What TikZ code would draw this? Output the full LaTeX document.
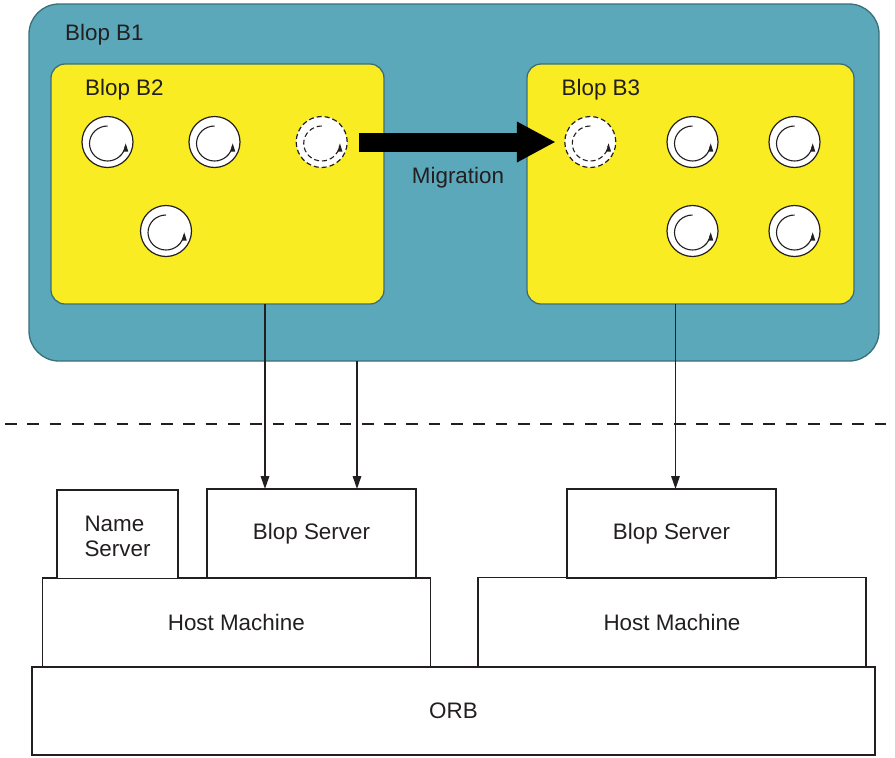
\documentclass[tikz,border=0pt]{standalone}
\usepackage{fontspec}
\setmainfont{Liberation Sans}
\usetikzlibrary{arrows.meta,calc}
\definecolor{tealfill}{HTML}{5BA8BA}
\definecolor{tealline}{HTML}{3A6F7A}
\definecolor{yel}{HTML}{F9EC23}
\definecolor{ink}{HTML}{231F20}
\tikzset{
  every node/.style={text=ink,font=\fontsize{22.4}{27}\selectfont},
  boxshape/.style={draw=ink,line width=1.5pt,fill=white,inner sep=0pt,outer sep=0pt,align=center},
  blopbox/.style={draw=tealline,line width=1.3pt,fill=yel,rounded corners=14pt},
  lbl/.style={inner sep=0pt,anchor=west},
  procdisc/.style={circle,fill=white,draw=ink,line width=1.2pt,minimum size=51pt,inner sep=0pt,outer sep=0pt},
  flow/.style={draw=ink,line width=1.5pt,-{Triangle[length=13pt,width=8.5pt]}},
  dashproc/.style={dash pattern=on 5pt off 3pt},
}
\newcommand{\procnode}[4]{%
  \node[procdisc,#4] (#1) at (#2,#3) {};
  \begin{scope}[shift={(#1.center)},x=1pt,y=1pt]
    \draw[ink,line width=1.1pt,#4] (0,16) arc[start angle=90,end angle=352,x radius=18,y radius=17.5];
    \fill[ink] (18.2,-1.3) -- (20.8,-9.7) -- (15.8,-9.7) -- cycle;
  \end{scope}}
\begin{document}
\begin{tikzpicture}[x=1pt,y=-1pt]
\useasboundingbox (0,0) rectangle (895,758);
% containers
\path[draw=tealline,line width=1.3pt,fill=tealfill,rounded corners=30pt] (29,4) rectangle (879,361);
\coordinate (b1bottom) at (357,361);
\path[blopbox] (51,64) rectangle (384,304);
\coordinate (b2bottom) at (265,304);
\path[blopbox] (527,64) rectangle (854,304);
\coordinate (b3bottom) at (675.5,304);
\node[lbl] (lb1) at (65,35) {Blop B1};
\node[lbl] (lb2) at (85,89.5) {Blop B2};
\node[lbl] (lb3) at (561.5,89.5) {Blop B3};
% processes
\procnode{p1}{107.5}{142}{}
\procnode{p2}{214.5}{142}{}
\procnode{p3}{321.7}{142}{dashproc}
\procnode{p4}{166}{231}{}
\procnode{q1}{590.3}{142}{dashproc}
\procnode{q2}{692.5}{142}{}
\procnode{q3}{794.5}{142}{}
\procnode{q4}{692.5}{231}{}
\procnode{q5}{794.5}{231}{}
% migration
\draw[black,line width=19pt,shorten <=12pt,shorten >=9pt,-{Triangle[length=39pt,width=38pt]}] (p3.east) -- (q1.west);
\node[anchor=center,inner sep=0pt] (mig) at (458,177.5) {Migration};
% separator
\coordinate (sepl) at (5,424);
\coordinate (sepr) at (900,424);
\draw[ink,line width=1.4pt,dash pattern=on 11.7pt off 10.6pt] (sepl) -- (sepr);
% lower boxes
\node[boxshape,minimum width=843pt,minimum height=88pt] (orb) at (453.5,711) {ORB};
\node[boxshape,minimum width=388pt,minimum height=89pt] (h1) at (236.3,622.5) {Host Machine};
\node[boxshape,minimum width=388pt,minimum height=89pt] (h2) at (672,622) {Host Machine};
\node[boxshape,minimum width=121pt,minimum height=88.5pt,align=left] (ns) at (117.5,534) {\rule{0pt}{20pt}Name\\[-1.5pt]Server};
\node[boxshape,minimum width=209pt,minimum height=89pt] (s1) at (311.5,533.5) {Blop Server};
\node[boxshape,minimum width=209pt,minimum height=89pt] (s2) at (671.5,533.5) {Blop Server};
% connectors
\draw[flow] (b2bottom) -- (b2bottom |- s1.north);
\draw[flow] (b1bottom) -- (b1bottom |- s1.north);
\draw[flow] (b3bottom) -- (b3bottom |- s2.north);
\end{tikzpicture}
\end{document}
